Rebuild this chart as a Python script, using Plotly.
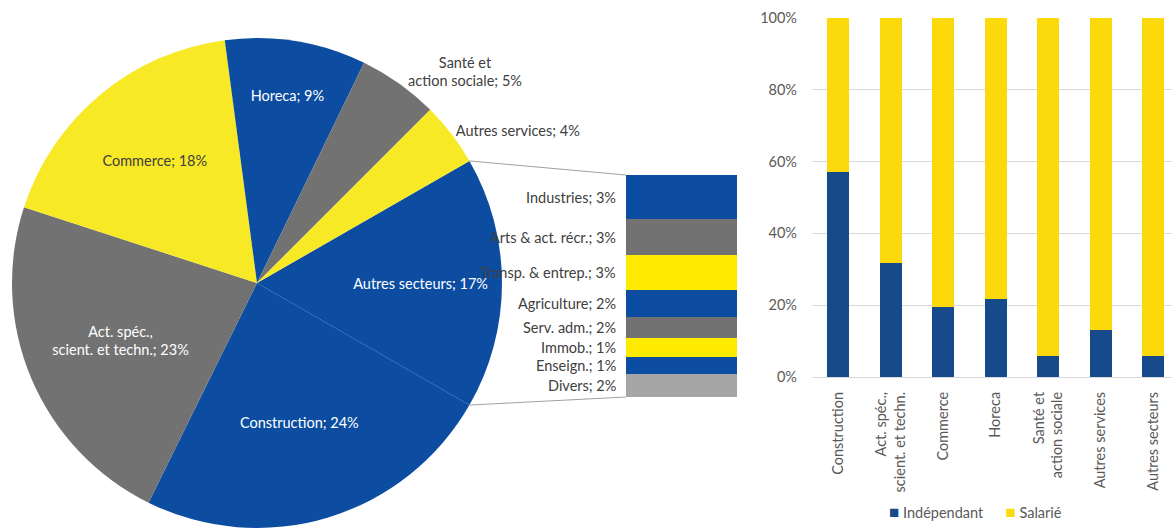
import math
import plotly.graph_objects as go

# ---- data -------------------------------------------------------------
# Breakdown of the grouped "Autres secteurs" slice (%)
sub_labels = ["Industries", "Arts & act. récr.", "Transp. & entrep.", "Agriculture",
              "Serv. adm.", "Immob.", "Enseign.", "Divers"]
sub_values = [3.3, 2.7, 2.6, 2.0, 1.6, 1.4, 1.3, 1.7]

# Main pie: share of sectors (%), clockwise starting with the grouped slice
pie_labels = ["Autres secteurs", "Construction", "Act. spéc.,<br>scient. et techn.",
              "Commerce", "Horeca", "Santé et<br>action sociale", "Autres services"]
pie_values = [round(sum(sub_values), 1), 24.0, 22.7, 17.9, 9.3, 5.3, 4.2]

# Status split per sector (%)
bar_categories = ["Construction", "Act. spéc.,<br>scient. et techn.", "Commerce", "Horeca",
                  "Santé et<br>action sociale", "Autres services", "Autres secteurs"]
independant = [57.1, 31.8, 19.4, 21.7, 5.8, 13.2, 5.8]
salarie = [42.9, 68.2, 80.6, 78.3, 94.2, 86.8, 94.2]
y_ticks = [0, 20, 40, 60, 80, 100]
y_tick_labels = ["0%", "20%", "40%", "60%", "80%", "100%"]

# ---- styling ----------------------------------------------------------
W, H = 1172, 531
FONT = "Lato"
BLUE, GREY, YELLOW, LGREY = "#0C4DA2", "#727272", "#F7E926", "#A6A6A6"
STACK_YELLOW = "#FFEB00"
BAR_BLUE, BAR_YELLOW = "#174A8B", "#FCD90A"
TXT = "#404040"
AXIS_TXT = "#595959"

pie_colors = [BLUE, BLUE, GREY, YELLOW, BLUE, GREY, YELLOW]
pie_text_colors = ["white", "white", "white", TXT, "white", TXT, TXT]
pie_textpos = ["inside", "inside", "inside", "inside", "inside", "outside", "outside"]
sub_colors = [BLUE, GREY, STACK_YELLOW, BLUE, GREY, STACK_YELLOW, BLUE, LGREY]

# pie placement (pixels -> paper)
pie_cx, pie_cy, pie_r = 257, 283, 245
pie_dom_x = [(pie_cx - pie_r) / W, (pie_cx + pie_r) / W]
pie_dom_y = [(H - pie_cy - pie_r) / H, (H - pie_cy + pie_r) / H]

half_angle = pie_values[0] / sum(pie_values) * 180.0

fig = go.Figure()

fig.add_trace(go.Pie(
    labels=pie_labels, values=pie_values, sort=False, direction="clockwise",
    rotation=90 - half_angle, domain=dict(x=pie_dom_x, y=pie_dom_y),
    marker=dict(colors=pie_colors, line=dict(width=0)),
    texttemplate="%{label}; %{value:.0f}%", textposition=pie_textpos,
    insidetextorientation="horizontal",
    insidetextfont=dict(color=pie_text_colors, size=14.5, family=FONT),
    outsidetextfont=dict(color=TXT, size=14.5, family=FONT),
    showlegend=False, hoverinfo="label+value", automargin=False,
))

# ---- secondary stack (breakdown of "Autres secteurs") ------------------
stack_left_px, stack_right_px = 626, 737
stack_top_px, stack_bot_px = 175, 397
total_sub = sum(sub_values)

order = list(range(len(sub_values)))[::-1]  # bottom to top
for i in order:
    fig.add_trace(go.Bar(
        x=[0], y=[sub_values[i]], width=1, marker=dict(color=sub_colors[i], line=dict(width=0)),
        xaxis="x2", yaxis="y2", showlegend=False, name=sub_labels[i], hoverinfo="name+y",
    ))

cum = 0.0
mids = {}
for i in order:
    mids[i] = cum + sub_values[i] / 2
    cum += sub_values[i]
for i in range(len(sub_values)):
    fig.add_annotation(
        x=-0.5, y=mids[i], xref="x2", yref="y2", xanchor="right", yanchor="middle",
        xshift=-8, showarrow=False,
        text=f"{sub_labels[i]}; {sub_values[i]:.0f}%",
        font=dict(size=14.5, color=TXT, family=FONT),
    )

# connector lines from pie slice edges to the stack corners
def pie_point(theta_deg):
    t = math.radians(theta_deg)
    return pie_cx + pie_r * math.sin(t), pie_cy - pie_r * math.cos(t)

for theta, ypx in [(90 - half_angle, stack_top_px), (90 + half_angle, stack_bot_px)]:
    px, py = pie_point(theta)
    fig.add_shape(type="line", xref="paper", yref="paper",
                  x0=px / W, y0=(H - py) / H, x1=stack_left_px / W, y1=(H - ypx) / H,
                  line=dict(color="#A0A0A0", width=1))

# ---- stacked 100% bars --------------------------------------------------
xs = list(range(len(bar_categories)))
fig.add_trace(go.Bar(
    x=xs, y=independant, width=0.42, name="Indépendant",
    marker=dict(color=BAR_BLUE, line=dict(width=0)), xaxis="x3", yaxis="y3", showlegend=False,
))
fig.add_trace(go.Bar(
    x=xs, y=salarie, width=0.42, name="Salarié",
    marker=dict(color=BAR_YELLOW, line=dict(width=0)), xaxis="x3", yaxis="y3", showlegend=False,
))

# legend keys drawn as text
fig.add_annotation(
    x=975 / W, y=(H - 511) / H, xref="paper", yref="paper", xanchor="center", yanchor="middle",
    showarrow=False,
    text=(f"<span style='color:{BAR_BLUE};font-size:17px'>■</span> Indépendant"
          f"      <span style='color:{BAR_YELLOW};font-size:17px'>■</span> Salarié"),
    font=dict(size=14.5, color=AXIS_TXT, family=FONT),
)

plot_left_px, plot_top_px, plot_bot_px = 812, 18, 377
cat_px = 52.5
span = (W - plot_left_px) / cat_px

fig.update_layout(
    template="none",
    width=W, height=H, margin=dict(l=0, r=0, t=0, b=0, autoexpand=False),
    paper_bgcolor="white", plot_bgcolor="white",
    barmode="stack", showlegend=False,
    font=dict(family=FONT, size=14, color=AXIS_TXT),
    xaxis2=dict(domain=[stack_left_px / W, stack_right_px / W], range=[-0.5, 0.5],
                visible=False, anchor="y2", automargin=False),
    yaxis2=dict(domain=[(H - stack_bot_px) / H, (H - stack_top_px) / H], range=[0, total_sub],
                visible=False, anchor="x2", automargin=False),
    xaxis3=dict(domain=[plot_left_px / W, 1.0], range=[-0.5, -0.5 + span], anchor="y3",
                tickmode="array", tickvals=xs, ticktext=bar_categories, tickangle=-90,
                showgrid=False, zeroline=False, showline=False, ticks="", automargin=False,
                ticklabelstandoff=11, tickfont=dict(size=14.5, color=AXIS_TXT, family=FONT)),
    yaxis3=dict(domain=[(H - plot_bot_px) / H, (H - plot_top_px) / H], range=[0, 100],
                anchor="x3", tickmode="array", tickvals=y_ticks, ticktext=y_tick_labels,
                showgrid=True, gridcolor="#D9D9D9", gridwidth=1, zeroline=True,
                zerolinecolor="#D9D9D9", zerolinewidth=1, showline=False, ticks="",
                automargin=False, ticklabelstandoff=14,
                tickfont=dict(size=14.5, color=AXIS_TXT, family=FONT)),
)

fig.write_html("out.html")
